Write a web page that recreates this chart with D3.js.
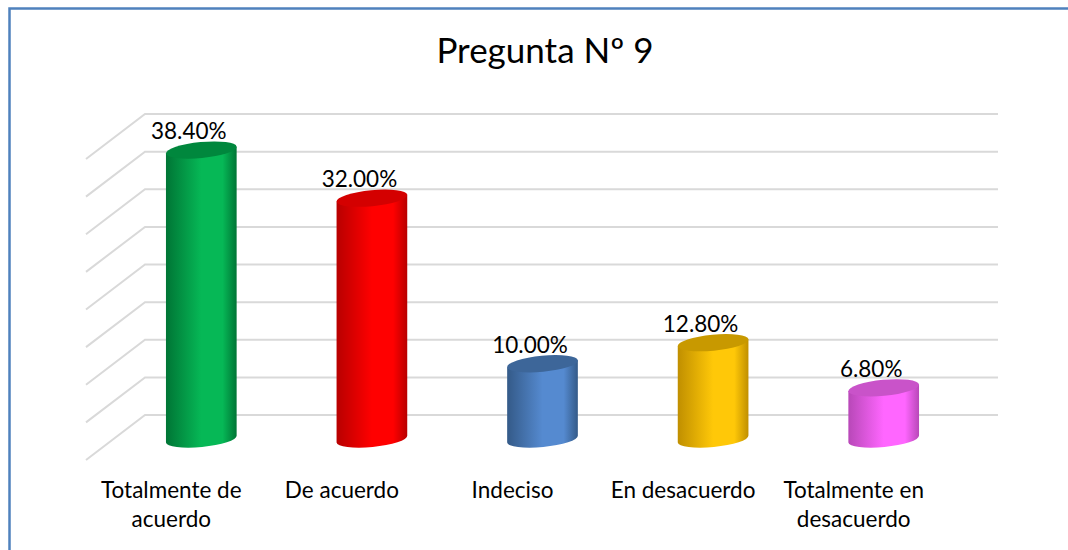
<!DOCTYPE html>
<html>
	<head>
		<meta http-equiv="Content-Type" content="text/html;charset=utf-8"/>
		<title>Pregunta Nº 9</title>
		<script src="https://d3js.org/d3.v7.min.js"></script>
		<style type="text/css">
			body { margin: 0; background: #fff; }
			text { font-family: Lato, "Open Sans", sans-serif; fill: #000; }
			.grid { stroke: #d9d9d9; stroke-width: 2; fill: none; }
		</style>
	</head>
	<body>
		<script type="text/javascript">

			//Chart data
			var title = "Pregunta Nº 9";
			var categories = ["Totalmente de acuerdo", "De acuerdo", "Indeciso", "En desacuerdo", "Totalmente en desacuerdo"];
			var labelLines = [["Totalmente de", "acuerdo"], ["De acuerdo"], ["Indeciso"], ["En desacuerdo"], ["Totalmente en", "desacuerdo"]];
			var values = [38.40, 32.00, 10.00, 12.80, 6.80];
			var valueLabels = ["38.40%", "32.00%", "10.00%", "12.80%", "6.80%"];
			var ticks = [0, 5, 10, 15, 20, 25, 30, 35, 40];

			//Colours: [body edge, body light, top]
			var colors = [
				["#007535", "#06b856", "#00873d"],
				["#b80000", "#ff0000", "#d40000"],
				["#345a88", "#558ad0", "#3d6699"],
				["#c08f00", "#ffc808", "#c89900"],
				["#b848b8", "#ff66ff", "#c953c9"]
			];

			var w = 1068,
				h = 550;

			//depth of the 3D floor (front -> back)
			var depthX = 59,
				depthY = -45,
				barDX = 30,
				barDY = -21,
				rx = 35.5,
				ry = 8,
				tilt = -5.5;

			var svg = d3.select("body").append("svg")
						.attr("width", w)
						.attr("height", h);

			//frame
			svg.append("rect")
				.attr("x", 9.5)
				.attr("y", 8.5)
				.attr("width", w + 20)
				.attr("height", h + 20)
				.attr("fill", "none")
				.attr("stroke", "#4f81bd")
				.attr("stroke-width", 2.5);

			//title
			svg.append("text")
				.attr("x", 545)
				.attr("y", 63)
				.attr("text-anchor", "middle")
				.style("font-size", "35px")
				.text(title);

			//scales (front edge of the floor)
			var xScale = d3.scaleBand()
							.domain(categories)
							.range([86, 939]);

			var yScale = d3.scaleLinear()
							.domain([0, 40])
							.range([460, 159]);

			//gridlines: diagonal on the side wall, horizontal on the back wall
			var grid = svg.append("g");
			ticks.forEach(function(t) {
				var y0 = yScale(t);
				grid.append("path")
					.attr("class", "grid")
					.attr("d", "M" + xScale.range()[0] + "," + y0 +
						"L" + (xScale.range()[0] + depthX) + "," + (y0 + depthY) +
						"L" + (xScale.range()[1] + depthX) + "," + (y0 + depthY));
			});

			//gradients
			var defs = svg.append("defs");
			colors.forEach(function(c, i) {
				var g = defs.append("linearGradient")
					.attr("id", "body" + i)
					.attr("x1", "0%").attr("x2", "100%")
					.attr("y1", "0%").attr("y2", "0%");
				g.append("stop").attr("offset", "0%").attr("stop-color", c[0]);
				g.append("stop").attr("offset", "50%").attr("stop-color", c[1]);
				g.append("stop").attr("offset", "80%").attr("stop-color", c[1]);
				g.append("stop").attr("offset", "100%").attr("stop-color", c[0]);
			});

			var rad = tilt * Math.PI / 180,
				ex = rx * Math.cos(rad),
				ey = rx * Math.sin(rad);

			//cylinders
			var bars = svg.selectAll("g.bar")
				.data(values)
				.enter()
				.append("g")
				.attr("class", "bar");

			bars.append("path")
				.attr("fill", function(d, i) { return "url(#body" + i + ")"; })
				.attr("d", function(d, i) {
					var cx = xScale(categories[i]) + xScale.bandwidth() / 2 + barDX,
						yb = yScale(0) + barDY,
						yt = yScale(d) + barDY;
					return "M" + (cx - ex) + "," + (yt - ey) +
						"L" + (cx - ex) + "," + (yb - ey) +
						"A" + rx + "," + ry + " " + tilt + " 0 0 " + (cx + ex) + "," + (yb + ey) +
						"L" + (cx + ex) + "," + (yt + ey) + "Z";
				});

			bars.append("ellipse")
				.attr("fill", function(d, i) { return colors[i][2]; })
				.attr("rx", rx)
				.attr("ry", ry)
				.attr("transform", function(d, i) {
					var cx = xScale(categories[i]) + xScale.bandwidth() / 2 + barDX,
						yt = yScale(d) + barDY;
					return "translate(" + cx + "," + yt + ") rotate(" + tilt + ")";
				});

			//value labels
			bars.append("text")
				.attr("x", function(d, i) { return xScale(categories[i]) + xScale.bandwidth() / 2 + barDX - 12.5; })
				.attr("y", function(d) { return yScale(d) + barDY - 11; })
				.attr("text-anchor", "middle")
				.style("font-size", "22.5px")
				.text(function(d, i) { return valueLabels[i]; });

			//category labels
			var cats = svg.selectAll("text.cat")
				.data(labelLines)
				.enter()
				.append("text")
				.attr("class", "cat")
				.attr("text-anchor", "middle")
				.style("font-size", "22.5px");

			cats.selectAll("tspan")
				.data(function(d, i) { return d.map(function(s) { return { s: s, i: i }; }); })
				.enter()
				.append("tspan")
				.attr("x", function(d) { return xScale(categories[d.i]) + xScale.bandwidth() / 2; })
				.attr("y", function(d, j) { return 498 + j * 29; })
				.text(function(d) { return d.s; });

		</script>
	</body>
</html>
